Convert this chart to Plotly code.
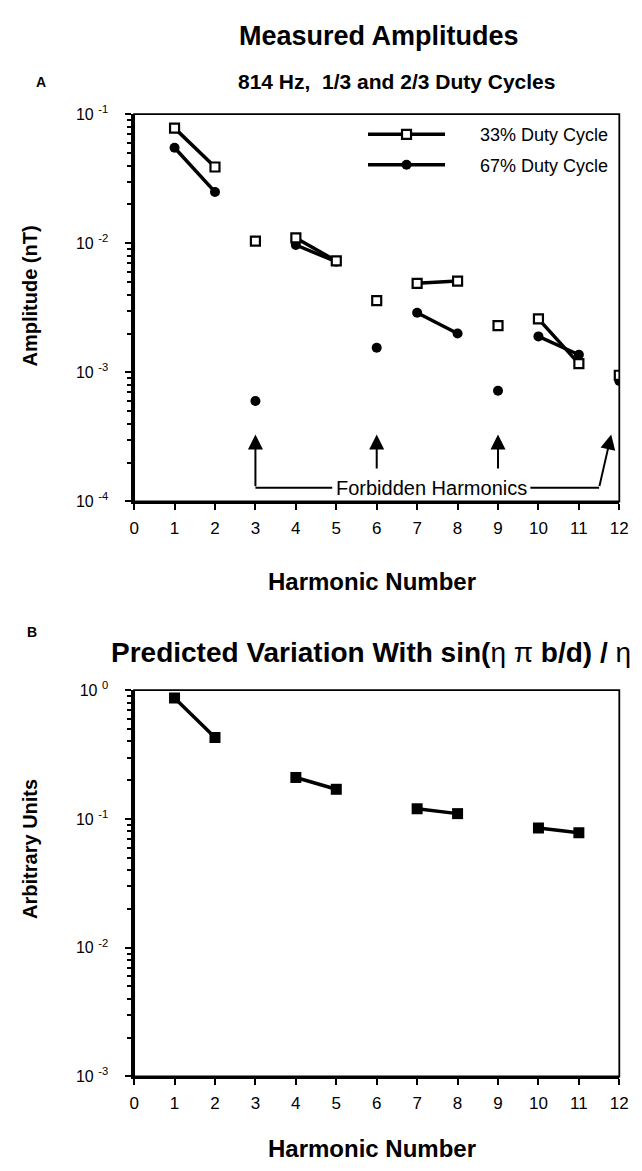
import math
import plotly.graph_objects as go

# ---------------- data ----------------
harmonics = [1, 2, 3, 4, 5, 6, 7, 8, 9, 10, 11, 12]
amp_33 = [0.078, 0.039, 0.0104, 0.011, 0.0073, 0.0036, 0.0049, 0.0051, 0.0023, 0.0026, 0.00117, 0.00095]
amp_67 = [0.055, 0.025, 0.0006, 0.0097, 0.0072, 0.00155, 0.0029, 0.0020, 0.00072, 0.0019, 0.00137, 0.00086]

pred_harmonics = [1, 2, 4, 5, 7, 8, 10, 11]
pred_values = [0.87, 0.43, 0.21, 0.17, 0.12, 0.11, 0.085, 0.078]

forbidden = [3, 6, 9, 12]
x_ticks = list(range(0, 13))
top_yticks = [1e-4, 1e-3, 1e-2, 1e-1]
top_yticktext = ["10 <sup>-4</sup>", "10 <sup>-3</sup>", "10 <sup>-2</sup>", "10 <sup>-1</sup>"]
bot_yticks = [1e-3, 1e-2, 1e-1, 1]
bot_yticktext = ["10 <sup>-3</sup>", "10 <sup>-2</sup>", "10 <sup>-1</sup>", "10 <sup>0</sup>"]

FONT = "Liberation Sans, Arial, Helvetica, sans-serif"
W, H = 642, 1171
NB = "\u00a0"


def segments(xs, ys):
    """Connect harmonic n to n+1 only when neither is a forbidden (multiple of 3) harmonic."""
    ox, oy = [], []
    for i, (x, y) in enumerate(zip(xs, ys)):
        ox.append(x)
        oy.append(y)
        if i + 1 < len(xs):
            nx = xs[i + 1]
            if not (nx == x + 1 and x % 3 != 0 and nx % 3 != 0):
                ox.append(None)
                oy.append(None)
    return ox, oy


def px_x(p):
    return p / W


def px_y(p):
    return 1 - p / H


fig = go.Figure()

x67, y67 = segments(harmonics, amp_67)
x33, y33 = segments(harmonics, amp_33)
xp, yp = segments(pred_harmonics, pred_values)

fig.add_trace(go.Scatter(
    x=x67, y=y67, mode="lines+markers", name=NB * 6 + "67% Duty Cycle",
    line=dict(color="black", width=3.5),
    marker=dict(symbol="circle", size=10, color="black"),
    xaxis="x", yaxis="y", legendrank=2, legendgroup="b", connectgaps=False))
fig.add_trace(go.Scatter(
    x=x33, y=y33, mode="lines+markers", name=NB * 6 + "33% Duty Cycle",
    line=dict(color="black", width=3.5),
    marker=dict(symbol="square", size=9, color="white", line=dict(color="black", width=2.2)),
    xaxis="x", yaxis="y", legendrank=1, legendgroup="a", connectgaps=False))
fig.add_trace(go.Scatter(
    x=xp, y=yp, mode="lines+markers", name="Predicted",
    line=dict(color="black", width=3.5),
    marker=dict(symbol="square", size=11, color="black"),
    xaxis="x2", yaxis="y2", showlegend=False, connectgaps=False))

# plot area geometry (pixels)
LEFT, RIGHT = 132, 628
TOP1, BOT1 = 105, 499
TOP2, BOT2 = 691, 1084

axis_x = dict(
    showgrid=False, zeroline=False, showline=True, linecolor="black", linewidth=2.5,
    ticks="outside", tickcolor="black", tickwidth=2, ticklen=6,
    tickfont=dict(family=FONT, size=17, color="black"), ticklabelstandoff=3,
)
axis_y = dict(
    showgrid=False, zeroline=False, showline=True, linecolor="black", linewidth=2.5,
    ticks="outside", tickcolor="black", tickwidth=2, ticklen=6,
    tickfont=dict(family=FONT, size=16, color="black"), ticklabelstandoff=14,
    minor=dict(ticks="outside", ticklen=4, tickwidth=1.5, tickcolor="black", dtick="D1"),
)

fig.update_layout(
    width=W, height=H,
    margin=dict(l=0, r=0, t=0, b=0),
    paper_bgcolor="white", plot_bgcolor="white",
    font=dict(family=FONT, color="black"),
    showlegend=True,
    legend=dict(
        x=px_x(366), y=px_y(107), xanchor="left", yanchor="top",
        bgcolor="rgba(0,0,0,0)", borderwidth=0,
        font=dict(family=FONT, size=18, color="black"),
        traceorder="grouped", tracegroupgap=4, itemwidth=77,
    ),
    xaxis=dict(domain=[px_x(LEFT), px_x(RIGHT)], range=[0, 12], tickvals=x_ticks,
               anchor="y", **axis_x),
    yaxis=dict(domain=[px_y(BOT1), px_y(TOP1)], type="log", range=[-4, -1],
               tickvals=top_yticks, ticktext=top_yticktext, anchor="x", **axis_y),
    xaxis2=dict(domain=[px_x(LEFT), px_x(RIGHT)], range=[0, 12], tickvals=x_ticks,
                anchor="y2", **axis_x),
    yaxis2=dict(domain=[px_y(BOT2), px_y(TOP2)], type="log", range=[-3, 0],
                tickvals=bot_yticks, ticktext=bot_yticktext, anchor="x2", **axis_y),
)

# frame (top/right thinner)
for xr, yr in (("x domain", "y domain"), ("x2 domain", "y2 domain")):
    fig.add_shape(type="rect", xref=xr, yref=yr, x0=0, x1=1, y0=0, y1=1,
                  line=dict(color="black", width=1.8), layer="above")

# ---------------- Forbidden Harmonics bracket ----------------
y_line = 1.28e-4
y_tip = 3.3e-4
y_tail = 1.75e-4
text_x = 7.36
fig.add_shape(type="line", xref="x", yref="y", x0=forbidden[0], x1=4.9, y0=y_line, y1=y_line,
              line=dict(color="black", width=2))
fig.add_shape(type="line", xref="x", yref="y", x0=9.8, x1=11.5, y0=y_line, y1=y_line,
              line=dict(color="black", width=2))
arrow_style = dict(showarrow=True, arrowhead=2, arrowsize=1.5, arrowwidth=2, arrowcolor="black",
                   xref="x", yref="y", axref="x", ayref="y", text="")
fig.add_annotation(x=forbidden[0], y=math.log10(y_tip), ax=forbidden[0], ay=math.log10(y_line), **arrow_style)
for h in forbidden[1:3]:
    fig.add_annotation(x=h, y=math.log10(y_tip), ax=h, ay=math.log10(y_tail), **arrow_style)
fig.add_annotation(x=forbidden[3] - 0.2, y=math.log10(y_tip), ax=11.5, ay=math.log10(y_line), **arrow_style)
fig.add_annotation(x=text_x, y=math.log10(y_line), xref="x", yref="y", text="Forbidden Harmonics",
                   showarrow=False, font=dict(family=FONT, size=20, color="black"),
                   xanchor="center", yanchor="middle")

# ---------------- texts ----------------
def txt(s, x, y, size, bold=True, angle=0, xanchor="center"):
    fig.add_annotation(x=px_x(x), y=px_y(y), xref="paper", yref="paper",
                       text=f"<b>{s}</b>" if bold else s, showarrow=False, textangle=angle,
                       font=dict(family=FONT, size=size, color="black"),
                       xanchor=xanchor, yanchor="middle")

txt("Measured Amplitudes", 382, 25, 27)
txt("A", 30, 72, 14, xanchor="left")
txt("814 Hz,  1/3 and 2/3 Duty Cycles", 400, 72, 21)
txt("Amplitude (nT)", 26, 290, 20, angle=-90)
txt("Harmonic Number", 375, 580, 24)
txt("B", 20, 632, 14, xanchor="left")
txt("Predicted Variation With sin(</b>η π <b>b/d) / </b>η<b>", 374, 653, 28)
txt("Arbitrary Units", 26, 852, 20, angle=-90)
txt("Harmonic Number", 375, 1157, 24)

fig.write_html("out.html", config={"displayModeBar": False},
               post_script="document.body.style.margin='0';document.body.style.overflow='hidden';")
